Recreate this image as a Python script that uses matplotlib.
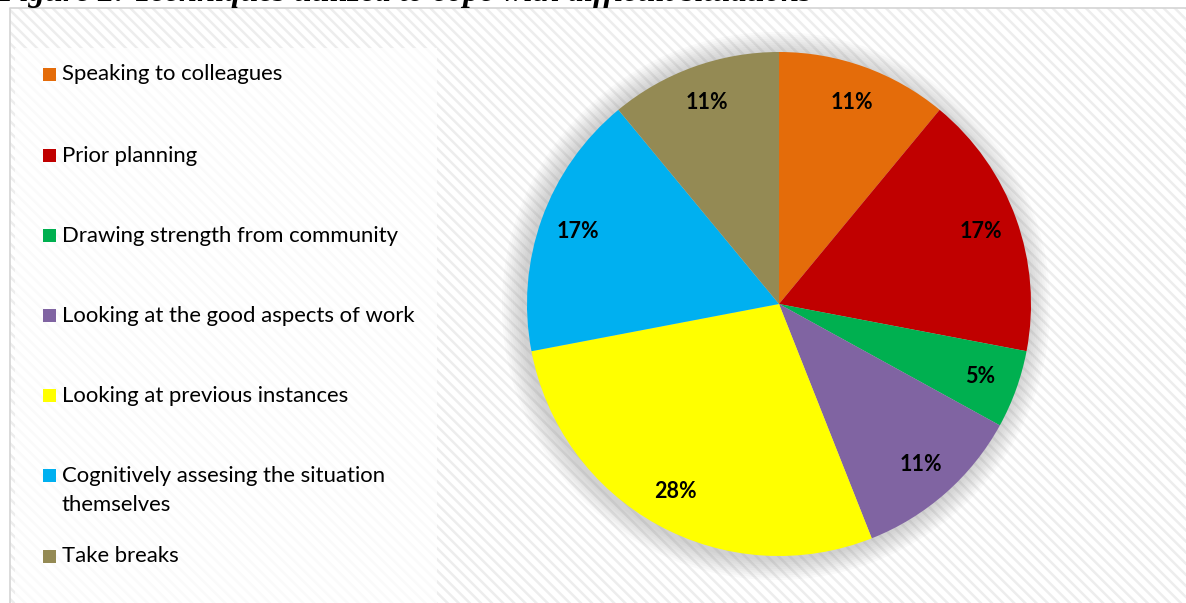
import matplotlib
matplotlib.use("Agg")
from matplotlib import pyplot as plt
from matplotlib.patches import Rectangle, Circle

# dane wykresu
labels = [
    "Speaking to colleagues",
    "Prior planning",
    "Drawing strength from community",
    "Looking at the good aspects of work",
    "Looking at previous instances",
    "Cognitively assesing the situation\nthemselves",
    "Take breaks",
]
values = [11, 17, 5, 11, 28, 17, 11]
colors = ["#E46C0A", "#C00000", "#00B050", "#8064A2", "#FFFF00", "#00B0F0", "#948A54"]

title = "Figure 2: Techniques utilized to cope with difficult situations"

W, H = 1186, 603
plt.rcParams["hatch.linewidth"] = 1.8

fig = plt.figure(figsize=(W / 100, H / 100), dpi=100)
fig.patch.set_facecolor("white")

# tło w pikselach (y od góry)
bg = fig.add_axes([0, 0, 1, 1])
bg.set_xlim(0, W)
bg.set_ylim(H, 0)
bg.axis("off")

# ramka wykresu z paskami
bg.add_patch(Rectangle((10, 8), W, H, facecolor="white", edgecolor="#ededed",
                       linewidth=0, hatch="\\\\\\", zorder=0))
bg.plot([10, 10, W], [H, 8, 8], color="#d4d4d4", lw=1.2, zorder=1)

# pole legendy
bg.add_patch(Rectangle((15, 48), 422, H, facecolor="white", alpha=0.75,
                       edgecolor="none", zorder=1))

# tytuł (ucięty u góry)
fig.text(-2 / W, 1 - 1 / H, title, fontsize=23.4, fontweight="bold", fontstyle="italic",
         family="Liberation Serif", ha="left", va="baseline")

# legenda
leg_y = [74, 155, 235, 315, 395, 475, 556]
for lab, col, y in zip(labels, colors, leg_y):
    bg.add_patch(Rectangle((43, y - 6.5), 13, 13, facecolor=col, edgecolor="none", zorder=3))
    bg.text(62, y - 9.5, lab, fontsize=15.9, family="Lato", va="top", ha="left",
            color="black", linespacing=1.62, zorder=3)

# cień pod kołem
cx, cy, r = 779, 304, 252
for i in range(10):
    bg.add_patch(Circle((cx - 3, cy + 2), r + 22 - i * 2.2, facecolor="#8c8c8c",
                        alpha=0.045, edgecolor="none", zorder=2))

# wykres kołowy
pie_ax = fig.add_axes([(cx - r) / W, (H - cy - r) / H, 2 * r / W, 2 * r / H])
wedges, texts, autotexts = pie_ax.pie(
    values,
    colors=colors,
    startangle=90,
    counterclock=False,
    autopct="%d%%",
    pctdistance=0.85,
    wedgeprops=dict(linewidth=0),
    textprops=dict(fontsize=15.5, fontweight="bold", family="Lato", color="black"),
)
pie_ax.set_xlim(-1, 1)
pie_ax.set_ylim(-1, 1)
pie_ax.set_aspect("equal")

fig.savefig("out.png", dpi=100, facecolor="white")
